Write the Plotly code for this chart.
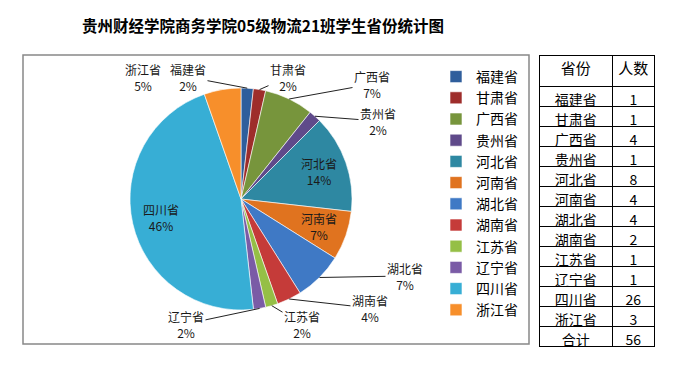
import math
import plotly.graph_objects as go

provinces = ["福建省", "甘肃省", "广西省", "贵州省", "河北省", "河南省",
             "湖北省", "湖南省", "江苏省", "辽宁省", "四川省", "浙江省"]
counts = [1, 1, 4, 1, 8, 4, 4, 2, 1, 1, 26, 3]
colors = ["#2F5E9C", "#9E2D2B", "#77953C", "#5F4A8A", "#2E88A2", "#E0731F",
          "#3F79C5", "#C53B39", "#95BF46", "#7A5BA6", "#37AED5", "#F78F2B"]

title_text = "贵州财经学院商务学院05级物流21班学生省份统计图"
table_header = ["省份", "人数"]
total_label = "合计"

# label placement (style only): labels not listed sit inside their slice;
# (x, y) = pixel position of the text centre for labels placed outside
label_place = {
    "福建省": (188, 77), "甘肃省": (288, 77), "广西省": (372, 84),
    "贵州省": (378, 121), "湖北省": (405, 276), "湖南省": (370, 308),
    "江苏省": (302, 324), "辽宁省": (186, 324), "浙江省": (143, 77),
}
no_leader = {"浙江省"}

W, H = 684, 369
FONT = "Noto Sans CJK SC"

def px_x(v):
    return v / W

def px_y(v):
    return 1 - v / H

cx, cy, r = 241, 199, 111

pie = go.Pie(
    labels=provinces,
    values=counts,
    sort=False,
    direction="clockwise",
    rotation=0,
    marker=dict(colors=colors, line=dict(color="white", width=0.6)),
    textinfo="none",
    automargin=False,
    domain=dict(x=[px_x(cx - r), px_x(cx + r)], y=[px_y(cy + r), px_y(cy - r)]),
    showlegend=True,
    hoverinfo="label+value+percent",
)

table = go.Table(
    domain=dict(x=[px_x(539), px_x(654)], y=[px_y(348), px_y(55)]),
    columnwidth=[73, 41],
    header=dict(values=table_header, height=31,
                line=dict(color="black", width=1),
                fill=dict(color="white"),
                align="center",
                font=dict(family=FONT, size=15, color="black")),
    cells=dict(values=[provinces + [total_label], counts + [sum(counts)]],
               height=20,
               line=dict(color="black", width=1),
               fill=dict(color="white"),
               align="center",
               font=dict(family=FONT, size=14, color="black")),
)

# data labels: text and anchor points derived from the values
total = sum(counts)
annotations = []
cum = 0
for name, v in zip(provinces, counts):
    mid = (cum + v / 2) / total * 2 * math.pi
    cum += v
    pct = round(v / total * 100)
    txt = f"{name}<br>{pct}%"
    lab_font = dict(family=FONT, size=12, color="#1a1a1a")
    if name not in label_place:
        lx = cx + 0.74 * r * math.sin(mid)
        ly = cy - 0.74 * r * math.cos(mid)
        annotations.append(dict(text=txt, x=px_x(lx), y=px_y(ly), xref="paper", yref="paper",
                                xanchor="center", yanchor="middle",
                                showarrow=False, font=lab_font, align="center"))
    else:
        lx, ly = label_place[name]
        ex = cx + r * math.sin(mid)
        ey = cy - r * math.cos(mid)
        if name in no_leader:
            annotations.append(dict(text=txt, x=px_x(lx), y=px_y(ly), xref="paper", yref="paper",
                                    xanchor="center", yanchor="middle",
                                    showarrow=False, font=lab_font, align="center"))
        else:
            annotations.append(dict(text=txt, x=px_x(ex), y=px_y(ey), xref="paper", yref="paper",
                                    ax=lx - ex, ay=ly - ey, showarrow=True, arrowhead=0,
                                    arrowwidth=1, arrowcolor="#222222", standoff=0,
                                    font=lab_font, align="center"))

annotations.append(dict(text="<b>" + title_text + "</b>", x=px_x(263), y=px_y(25),
                        xref="paper", yref="paper", showarrow=False,
                        xanchor="center", yanchor="middle",
                        font=dict(family=FONT, size=15.5, color="black")))

fig = go.Figure([pie, table])
fig.update_layout(
    width=W, height=H, autosize=False,
    margin=dict(l=0, r=0, t=0, b=0, pad=0),
    paper_bgcolor="white",
    plot_bgcolor="white",
    font=dict(family=FONT, size=12, color="black"),
    legend=dict(x=px_x(436), y=px_y(61), xanchor="left", yanchor="top",
                font=dict(family=FONT, size=14, color="black"),
                bgcolor="rgba(0,0,0,0)", itemwidth=30),
    shapes=[dict(type="rect", xref="paper", yref="paper",
                 x0=px_x(23), x1=px_x(529), y0=px_y(344), y1=px_y(55),
                 line=dict(color="#888888", width=1.5), fillcolor="rgba(0,0,0,0)",
                 layer="below")],
    annotations=annotations,
)
fig.write_html("out.html", config={"displayModeBar": False},
               post_script="document.body.style.margin='0';document.body.style.padding='0';")
